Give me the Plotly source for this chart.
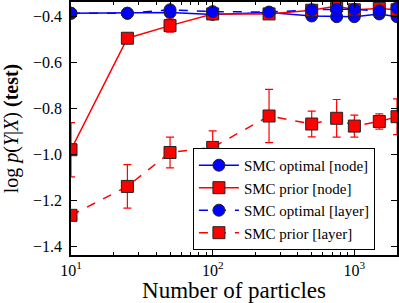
import plotly.graph_objects as go

particles = [10, 25, 50, 100, 250, 500, 750, 1000, 1500, 2000]

opt_node = [-0.385, -0.385, -0.382, -0.390, -0.382, -0.397, -0.400, -0.400, -0.388, -0.400]
opt_node_err = [0.005, 0.006, 0.006, 0.006, 0.006, 0.008, 0.008, 0.008, 0.008, 0.008]

prior_node = [-0.980, -0.494, -0.439, -0.388, -0.388, -0.372, -0.353, -0.370, -0.364, -0.370]
prior_node_err = [0.118, 0.018, 0.028, 0.018, 0.012, 0.012, 0.015, 0.012, 0.012, 0.012]

opt_layer = [-0.385, -0.385, -0.370, -0.378, -0.380, -0.370, -0.368, -0.368, -0.375, -0.362]
opt_layer_err = [0.005, 0.005, 0.006, 0.006, 0.006, 0.006, 0.006, 0.006, 0.006, 0.006]

prior_layer = [-1.266, -1.140, -0.992, -0.970, -0.833, -0.868, -0.843, -0.877, -0.857, -0.836]
prior_layer_err = [0.010, 0.095, 0.067, 0.072, 0.116, 0.056, 0.082, 0.048, 0.033, 0.078]

x_tickvals = [10, 100, 1000]
x_ticktext = ["10<sup>1</sup>", "10<sup>2</sup>", "10<sup>3</sup>"]
y_tickvals = [-0.4, -0.6, -0.8, -1.0, -1.2, -1.4]
y_ticktext = ["\u22120.4", "\u22120.6", "\u22120.8", "\u22121.0", "\u22121.2", "\u22121.4"]
minor_vals = [20, 30, 40, 50, 60, 70, 80, 90, 200, 300, 400, 500, 600, 700, 800, 900, 2000]

FONT = "Liberation Serif"
BLUE = "#0000ff"
RED = "#ff0000"

fig = go.Figure()

def add(name, y, err, color, symbol, dash):
    fig.add_trace(go.Scatter(
        x=particles, y=y, name=name, mode="lines+markers",
        line=dict(color=color, width=1.5, dash=dash),
        marker=dict(symbol=symbol, size=12, color=color,
                    line=dict(color="#222222", width=1)),
        error_y=dict(type="data", array=err, visible=True, color=color,
                     thickness=1.2, width=4),
        cliponaxis=True,
    ))

add("SMC optimal [node]", opt_node, opt_node_err, BLUE, "circle", "solid")
add("SMC prior [node]", prior_node, prior_node_err, RED, "square", "solid")
add("SMC optimal [layer]", opt_layer, opt_layer_err, BLUE, "circle", "dash")
add("SMC prior [layer]", prior_layer, prior_layer_err, RED, "square", "dash")

fig.update_layout(
    width=399, height=303,
    margin=dict(l=71, r=2, t=2, b=48, autoexpand=False),
    paper_bgcolor="white", plot_bgcolor="white",
    font=dict(family=FONT, size=14, color="black"),
    showlegend=True,
    legend=dict(
        x=0.374, y=0.02, xanchor="left", yanchor="bottom",
        bgcolor="white", bordercolor="black", borderwidth=1,
        font=dict(family=FONT, size=15),
        tracegroupgap=0, itemwidth=40,
    ),
)

fig.update_xaxes(
    type="log", range=[1, 3.30103], automargin=False,
    tickmode="array", tickvals=x_tickvals, ticktext=x_ticktext,
    ticks="inside", ticklen=6, tickwidth=1, tickcolor="black",
    showline=True, linecolor="black", linewidth=1.5, mirror="ticks",
    showgrid=False, zeroline=False,
    tickfont=dict(family=FONT, size=16),
    minor=dict(tickmode="array", tickvals=minor_vals, ticks="inside",
               ticklen=3, tickcolor="black", showgrid=False),
    title=dict(text="Number of particles", font=dict(family=FONT, size=23), standoff=2),
)

fig.update_yaxes(
    range=[-1.439, -0.336], automargin=False,
    tickmode="array", tickvals=y_tickvals, ticktext=y_ticktext,
    ticks="inside", ticklen=6, tickwidth=1, tickcolor="black",
    showline=True, linecolor="black", linewidth=1.5, mirror="ticks",
    showgrid=False, zeroline=False,
    tickfont=dict(family=FONT, size=16),
    ticklabelstandoff=4,
    title=dict(text="log <i>p</i>(<i>Y</i>|<i>X</i>) <b>(test)</b>",
               font=dict(family=FONT, size=20)),
)

fig.write_html("out.html", config={"displayModeBar": False},
               post_script="document.body.style.margin='0';document.body.style.overflow='hidden';")
